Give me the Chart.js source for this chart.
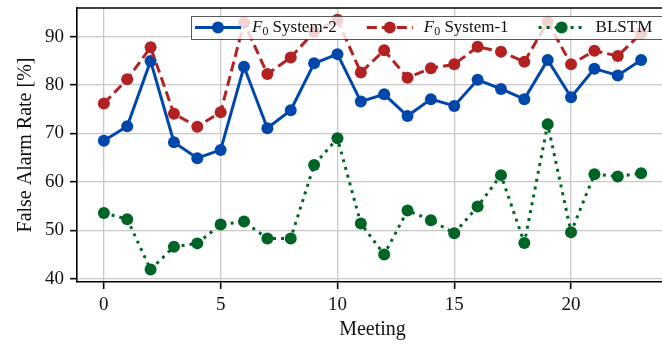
<!DOCTYPE html>
<html>
<head>
<meta charset="utf-8">
<script src="https://cdn.jsdelivr.net/npm/chart.js@4.4.1/dist/chart.umd.min.js"></script>
<style>
  html, body { margin: 0; padding: 0; background: #fff; overflow: hidden; }
  /* the plot runs a little past the right edge of the window */
  #wrap { width: 674px; height: 345px; position: relative; }
</style>
</head>
<body>
<div id="wrap"><canvas id="c"></canvas></div>
<script>
// Meeting index on the x axis
const meetings = [0, 1, 2, 3, 4, 5, 6, 7, 8, 9, 10, 11, 12, 13, 14, 15, 16, 17, 18, 19, 20, 21, 22, 23];

// False alarm rate [%] per meeting
const f0System2 = [68.5, 71.5, 85.0, 68.2, 64.9, 66.6, 83.8, 71.1, 74.8, 84.5, 86.4, 76.6,
                   78.1, 73.6, 77.1, 75.7, 81.1, 79.2, 77.1, 85.2, 77.5, 83.4, 82.0, 85.2];
const f0System1 = [76.2, 81.2, 87.8, 74.1, 71.4, 74.4, 92.9, 82.3, 85.7, 91.0, 93.5, 82.6,
                   87.2, 81.5, 83.5, 84.3, 87.9, 86.9, 84.8, 93.1, 84.3, 87.1, 86.0, 90.7];
const blstm     = [53.6, 52.3, 41.9, 46.6, 47.3, 51.2, 51.8, 48.3, 48.3, 63.5, 69.0, 51.4,
                   45.0, 54.1, 52.1, 49.4, 54.9, 61.4, 47.4, 71.9, 49.6, 61.6, 61.1, 61.8];

// Tick labels
const xTicks = [0, 5, 10, 15, 20];
const yTicks = [40, 50, 60, 70, 80, 90];

// Legend labels: italic symbol, subscript, rest of the text
const seriesLabels = [
  { sym: 'F', sub: '0', rest: ' System-2' },
  { sym: 'F', sub: '0', rest: ' System-1' },
  { sym: '',  sub: '',  rest: 'BLSTM' }
];

const SERIF = '"Liberation Serif", "DejaVu Serif", serif';
const BLUE = '#0047ab';
const RED = '#b22222';
const GREEN = '#006427';

const toPoints = vals => meetings.map((m, i) => ({ x: m, y: vals[i] }));

// Frame line along the top of the plot area
const topFrame = {
  id: 'topFrame',
  afterDatasetsDraw(chart) {
    const { ctx, chartArea } = chart;
    ctx.save();
    ctx.strokeStyle = '#000';
    ctx.lineWidth = 1.6;
    ctx.beginPath();
    ctx.moveTo(chartArea.left - 0.8, chartArea.top);
    ctx.lineTo(chart.width + 2, chartArea.top);
    ctx.stroke();
    ctx.restore();
  }
};

// Single-row legend box drawn over the plot
const rowLegend = {
  id: 'rowLegend',
  afterDraw(chart) {
    const { ctx, chartArea } = chart;
    const boxLeft = chartArea.left + 114;
    const boxTop = chartArea.top + 8;
    const boxH = 23;
    const cy = boxTop + boxH / 2;
    const handleLen = 46;
    const textGap = 11;
    const colGap = 30;
    const fontSize = 17;
    ctx.save();
    ctx.fillStyle = 'rgba(255,255,255,0.8)';
    ctx.fillRect(boxLeft, boxTop, chart.width - boxLeft + 20, boxH);
    ctx.strokeStyle = 'rgba(60,60,60,0.85)';
    ctx.lineWidth = 1;
    ctx.strokeRect(boxLeft + 0.5, boxTop + 0.5, chart.width - boxLeft + 20, boxH);

    let x = boxLeft + 4;
    chart.data.datasets.forEach((ds, i) => {
      // handle line
      ctx.strokeStyle = ds.borderColor;
      ctx.lineWidth = ds.borderWidth;
      ctx.setLineDash(ds.borderDash || []);
      ctx.lineCap = 'butt';
      ctx.beginPath();
      ctx.moveTo(x, cy);
      ctx.lineTo(x + handleLen, cy);
      ctx.stroke();
      ctx.setLineDash([]);
      // marker
      ctx.fillStyle = ds.pointBackgroundColor;
      ctx.beginPath();
      ctx.arc(x + handleLen / 2, cy, ds.pointRadius, 0, Math.PI * 2);
      ctx.fill();
      x += handleLen + textGap;
      // label
      const lab = seriesLabels[i];
      ctx.fillStyle = '#111';
      ctx.textBaseline = 'middle';
      ctx.textAlign = 'left';
      if (lab.sym) {
        ctx.font = 'italic ' + fontSize + 'px ' + SERIF;
        ctx.fillText(lab.sym, x, cy);
        x += ctx.measureText(lab.sym).width;
        ctx.font = (fontSize * 0.7) + 'px ' + SERIF;
        ctx.fillText(lab.sub, x, cy + 4);
        x += ctx.measureText(lab.sub).width;
      }
      ctx.font = fontSize + 'px ' + SERIF;
      ctx.fillText(lab.rest, x, cy);
      x += ctx.measureText(lab.rest).width + colGap;
    });
    ctx.restore();
  }
};

const lineDataset = (label, vals, color, dash, order) => ({
  label,
  data: toPoints(vals),
  borderColor: color,
  backgroundColor: color,
  pointBackgroundColor: color,
  pointBorderColor: color,
  pointBorderWidth: 0,
  pointRadius: 6,
  pointHoverRadius: 6,
  borderWidth: 3,
  borderDash: dash,
  borderCapStyle: 'butt',
  tension: 0,
  fill: false,
  order
});

new Chart(document.getElementById('c'), {
  type: 'line',
  data: {
    datasets: [
      lineDataset('F0 System-2', f0System2, BLUE, [], 3),
      lineDataset('F0 System-1', f0System1, RED, [10, 5], 2),
      lineDataset('BLSTM', blstm, GREEN, [3, 5], 1)
    ]
  },
  options: {
    responsive: true,
    maintainAspectRatio: false,
    animation: false,
    devicePixelRatio: 1,
    layout: { padding: { left: 0, top: 8, right: 0, bottom: 0 } },
    plugins: {
      legend: { display: false },
      tooltip: { enabled: false }
    },
    scales: {
      x: {
        type: 'linear',
        min: -1.15,
        max: 24.15,
        afterBuildTicks: axis => { axis.ticks = xTicks.map(v => ({ value: v })); },
        afterFit: axis => { axis.height = 63; axis.paddingLeft = 0; axis.paddingRight = 0; },
        grid: {
          color: '#c8c8c8',
          lineWidth: 1.3,
          tickColor: '#000',
          tickLength: 7,
          tickWidth: 1.6
        },
        border: { color: '#000', width: 1.6 },
        ticks: {
          autoSkip: false,
          maxRotation: 0,
          padding: 5,
          color: '#111',
          font: { family: SERIF, size: 19 },
          callback: v => String(v)
        },
        title: {
          display: true,
          text: 'Meeting',
          color: '#111',
          font: { family: SERIF, size: 20 },
          padding: { top: 0, bottom: 3 }
        }
      },
      y: {
        type: 'linear',
        min: 39.32,
        max: 95.93,
        afterBuildTicks: axis => { axis.ticks = yTicks.map(v => ({ value: v })); },
        afterFit: axis => { axis.width = 77; axis.paddingTop = 0; axis.paddingBottom = 0; },
        grid: {
          color: '#c8c8c8',
          lineWidth: 1.3,
          tickColor: '#000',
          tickLength: 7,
          tickWidth: 1.6
        },
        border: { color: '#000', width: 1.6 },
        ticks: {
          padding: 6,
          color: '#111',
          font: { family: SERIF, size: 19 },
          callback: v => String(v)
        },
        title: {
          display: true,
          text: 'False Alarm Rate [%]',
          color: '#111',
          font: { family: SERIF, size: 20 },
          padding: { top: 14, bottom: 10 }
        }
      }
    }
  },
  plugins: [topFrame, rowLegend]
});
</script>
</body>
</html>
